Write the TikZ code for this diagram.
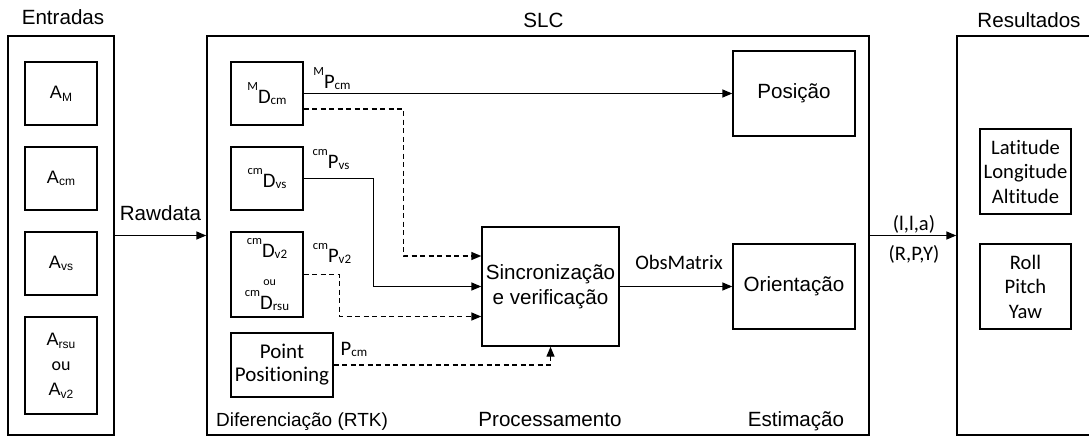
\documentclass[tikz,border=0pt]{standalone}
\usepackage{fontspec}
\setmainfont{Liberation Sans}
\newfontfamily\cbr[Ligatures=NoCommon]{Carlito}
\usetikzlibrary{arrows.meta}

% font sizes (1pt = 1 unit of the picture)
\newcommand\fA{\fontsize{20.6}{25.5}\selectfont}
\newcommand\fC{\cbr\fontsize{20.6}{24.5}\selectfont}
\newcommand\fS{\fontsize{18}{25}\selectfont}
% baselines exactly as set, never pushed apart
\newcommand\fixlines{\lineskiplimit=-100pt\relax\lineskip=0pt\relax}
% raised / lowered indices
\newcommand\supx[1]{\raisebox{0.63em}{\fontsize{12.5}{12.5}\selectfont #1}}
\newcommand\subx[1]{\raisebox{-0.07em}{\fontsize{13}{13}\selectfont #1}}
\newcommand\subA[1]{\raisebox{-0.15em}{\fontsize{12}{12}\selectfont #1}}

\tikzset{
  box/.style={draw=black, line width=1.4pt, inner sep=0pt, align=center},
  lab/.style={anchor=base, inner sep=0pt},
  ar/.style={line width=1.4pt, -{Triangle[length=10pt,width=8pt]}},
  dsh/.style={ar, dash pattern=on 5pt off 3.5pt},
}

\begin{document}
\begin{tikzpicture}[x=1pt,y=-1pt]
\useasboundingbox (0,0) rectangle (1089,437);
\fill[white] (0,0) rectangle (1089,437);

% ---- Entradas ----
\node[lab, font=\fA] (tent) at (63,24) {Entradas};
\node[box, minimum width=106, minimum height=399] (ent) at (61,235.5) {};
\node[box, minimum width=72, minimum height=63, font=\fS] (am)  at (61,93.5)  {A\subA{M}};
\node[box, minimum width=72, minimum height=63, font=\fS] (acm) at (61,178.5) {A\subA{cm}};
\node[box, minimum width=72, minimum height=63, font=\fS] (avs) at (61,263.5) {A\subA{vs}};
\node[box, minimum width=72, minimum height=97, font=\fS] (ars) at (61,365.5)
  {A\subA{rsu}\\{\cbr ou}\\A\subA{v2}};

% ---- SLC ----
\node[lab, font=\fA] (tslc) at (543.5,27) {SLC};
\node[box, minimum width=662, minimum height=399] (slc) at (538,235.5) {};

\node[box, minimum width=72, minimum height=63, font=\fC] (dcm) at (267,93.5)
  {\supx{M}D\subx{cm}};
\node[box, minimum width=72, minimum height=63, font=\fC] (dvs) at (267,178.5)
  {\supx{cm}D\subx{vs}};
\node[box, minimum width=72, minimum height=85, font=\fC\fixlines] (dv2) at (267,274.5)
  {\supx{cm}D\subx{v2}\\[3.5pt]{\fontsize{12}{12}\selectfont\ \ ou}\\[-1pt]\supx{cm}D\subx{rsu}};
\node[box, minimum width=102, minimum height=64, font=\cbr\fontsize{21}{23}\selectfont] (pp) at (282,365)
  {Point\\Positioning};

\node[box, minimum width=137, minimum height=119, font=\fA] (sync) at (550.5,286.5)
  {Sincronização\\e verificação};
\node[box, minimum width=122, minimum height=85, font=\fA] (pos) at (794,93.5) {Posição};
\node[box, minimum width=122, minimum height=85, font=\fA] (ori) at (794,286.5) {Orientação};

\node[lab, font=\fontsize{19}{24}\selectfont] (tdif) at (302,426) {Diferenciação (RTK)};
\node[lab, font=\fA] (tpro) at (550,426) {Processamento};
\node[lab, font=\fA] (test) at (796,426) {Estimação};

% ---- Resultados ----
\node[lab, font=\fA] (tres) at (1029,27) {Resultados};
\node[box, minimum width=150, minimum height=399] (res) at (1032,235.5) {};
\node[box, minimum width=91, minimum height=85, font=\fC] (lat) at (1025.5,171.5)
  {Latitude\\Longitude\\Altitude};
\node[box, minimum width=91, minimum height=85, font=\fC] (rpy) at (1025.5,286.5)
  {Roll\\Pitch\\Yaw};

% ---- connectors ----
\draw[ar] (ent.east) -- (slc.west);
\node[lab, font=\fA] (lraw) at (160.5,220) {Rawdata};

\draw[ar] (dcm.east) -- (pos.west);
\node[lab, font=\fC] (lmp) at (332,88) {\supx{M}P\subx{cm}};

\draw[dsh] ([yshift=-15.5pt]dcm.east) -- ++(100,0) |- ([yshift=30.5pt]sync.west);

\draw[ar] (dvs.east) -- ++(70,0) |- (sync.west);
\node[lab, font=\fC] (lvs) at (331,168) {\supx{cm}P\subx{vs}};

\draw[dsh] (dv2.east) -- ++(36,0) |- ([yshift=-30pt]sync.west);
\node[lab, font=\fC] (lv2) at (332,262) {\supx{cm}P\subx{v2}};

\draw[dsh] (pp.east) -| (sync.south);
\node[lab, font=\fC] (lpc) at (354,355) {P\subx{cm}};

\draw[ar] (sync.east) -- (ori.west);
\node[lab, font=\fC] (lobs) at (679,269) {ObsMatrix};

\draw[ar] (slc.east) -- (res.west);
\node[lab, font=\fC] (llla) at (914,230) {(l,l,a)};
\node[lab, font=\fC] (lrpy) at (914,260) {(R,P,Y)};
\end{tikzpicture}
\end{document}
